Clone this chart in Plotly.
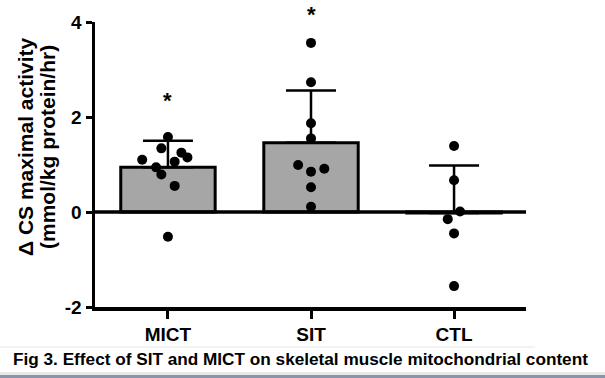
import plotly.graph_objects as go

# ---- data ----
groups = ["MICT", "SIT", "CTL"]
group_means = [0.94, 1.46, -0.02]
group_sd = [0.56, 1.10, 1.00]

mict_values = [1.58, 1.34, 1.10, 1.25, 1.15, 0.94, 1.06, 0.79, 0.55, -0.52]
mict_jitter = [0.0, -0.046, -0.18, 0.094, 0.136, -0.083, 0.047, -0.046, 0.047, 0.0]
sit_values = [3.56, 2.73, 1.87, 1.55, 0.99, 0.85, 0.91, 0.52, 0.11]
sit_jitter = [0.0, 0.0, 0.0, 0.0, -0.09, 0.0, 0.093, 0.0, 0.0]
ctl_values = [1.39, 0.67, 0.01, -0.15, -0.45, -1.56]
ctl_jitter = [0.0, 0.0, 0.042, -0.044, 0.0, 0.0]

sig_groups = ["MICT", "SIT"]
sig_y = [2.46, 4.36]

y_range = [-2, 4]
y_ticks = [-2, 0, 2, 4]
y_title_lines = ["Δ CS maximal activity", "(mmol/kg protein/hr)"]
caption = "Fig 3. Effect of SIT and MICT on skeletal muscle mitochondrial content"

FONT = "Liberation Sans, Arial, sans-serif"

# full-window figure (body margin removed by post_script)
W, H = 605, 378
ML, MR, MT, MB = 95, 79, 22, 71
PW = W - ML - MR
PH = H - MT - MB

def px_x(px):  # window pixel -> paper x
    return (px - ML) / PW

def px_y(py):  # window pixel -> paper y
    return (H - MB - py) / PH

def val_to_px(v):
    return MT + (y_range[1] - v) / (y_range[1] - y_range[0]) * PH

xpos = list(range(len(groups)))

fig = go.Figure()
fig.add_trace(go.Bar(
    x=xpos, y=group_means, width=0.66,
    marker=dict(color="#a6a6a6", line=dict(color="black", width=3)),
    error_y=dict(type="data", symmetric=False, array=group_sd,
                 arrayminus=[0] * len(groups), color="black",
                 thickness=2.5, width=25),
    showlegend=False, hoverinfo="skip",
))

pts_x, pts_y = [], []
for i, (vals, jit) in enumerate([(mict_values, mict_jitter),
                                 (sit_values, sit_jitter),
                                 (ctl_values, ctl_jitter)]):
    for v, j in zip(vals, jit):
        pts_x.append(i + j)
        pts_y.append(v)

fig.add_trace(go.Scatter(
    x=pts_x, y=pts_y, mode="markers",
    marker=dict(color="black", size=10, line=dict(width=0)),
    showlegend=False, cliponaxis=False, hoverinfo="skip",
))

annotations = []
GLYPH_OFFSET = 9  # '*' glyph sits ~9px below the top of its text box
for g, yv in zip(sig_groups, sig_y):
    shift = min(GLYPH_OFFSET, val_to_px(yv))  # keep box inside the page
    annotations.append(dict(x=groups.index(g),
                            y=(yv - y_range[0]) / (y_range[1] - y_range[0]),
                            xref="x", yref="paper",
                            text="<b>*</b>", showarrow=False,
                            yanchor="top", yshift=shift,
                            font=dict(family=FONT, size=22, color="black")))

for line, cx in zip(y_title_lines, [25, 47]):
    annotations.append(dict(x=px_x(cx), y=px_y(147), xref="paper", yref="paper",
                            xanchor="center", yanchor="middle",
                            text="<b>" + line + "</b>", textangle=-90,
                            showarrow=False,
                            font=dict(family=FONT, size=21, color="black")))

annotations.append(dict(x=px_x(11), y=px_y(359), xref="paper", yref="paper",
                        xanchor="left", yanchor="middle",
                        text="<b>" + caption + "</b>", showarrow=False,
                        font=dict(family=FONT, size=17.2, color="black")))

shapes = [
    dict(type="line", xref="paper", yref="y", x0=0, x1=1, y0=0, y1=0,
         line=dict(color="black", width=3.5), layer="above"),
    dict(type="line", xref="paper", yref="paper", x0=px_x(0), x1=px_x(535),
         y0=px_y(347), y1=px_y(347), line=dict(color="#e6e6e6", width=1)),
    dict(type="rect", xref="paper", yref="paper", x0=px_x(0), x1=px_x(605),
         y0=px_y(372), y1=px_y(375), line=dict(width=0), fillcolor="#e8e8e8"),
    dict(type="rect", xref="paper", yref="paper", x0=px_x(0), x1=px_x(605),
         y0=px_y(375), y1=px_y(378), line=dict(width=0), fillcolor="#8796ab"),
]

fig.update_layout(
    width=W, height=H,
    margin=dict(l=ML, r=MR, t=MT, b=MB),
    paper_bgcolor="white", plot_bgcolor="white",
    font=dict(family=FONT, color="black"),
    bargap=0,
    hovermode=False,
    annotations=annotations,
    shapes=shapes,
    xaxis=dict(
        range=[-0.51, 2.503], tickmode="array", tickvals=xpos,
        ticktext=["<b>%s</b>" % g for g in groups],
        tickfont=dict(family=FONT, size=19, color="black"),
        showgrid=False, zeroline=False,
        showline=True, linecolor="black", linewidth=3.5,
        ticks="outside", ticklen=8, tickwidth=3, tickcolor="black",
    ),
    yaxis=dict(
        range=y_range, tickmode="array", tickvals=y_ticks,
        ticktext=["<b>%d</b>" % t for t in y_ticks],
        tickfont=dict(family=FONT, size=19, color="black"),
        showgrid=False, zeroline=False,
        showline=True, linecolor="black", linewidth=3.5,
        ticks="outside", ticklen=6, tickwidth=3, tickcolor="black",
    ),
)

fig.write_html("out.html",
               config={"displayModeBar": False, "staticPlot": True},
               post_script="document.body.style.margin='0';"
                           "document.body.style.overflow='hidden';")
